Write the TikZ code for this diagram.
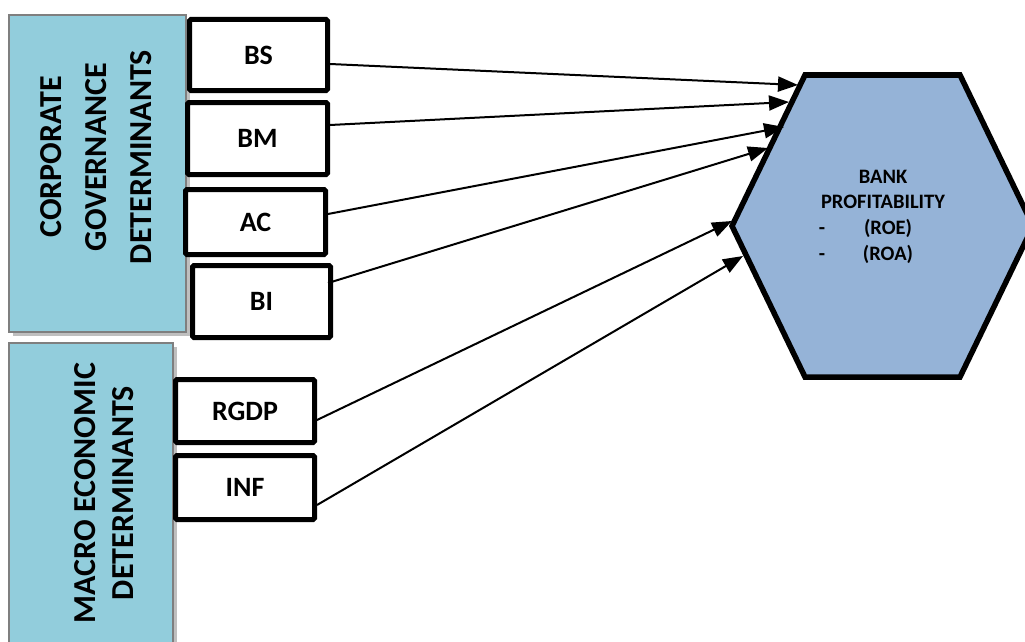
\documentclass[tikz,border=0pt]{standalone}
\usepackage{fontspec}
\setmainfont{Carlito}
\usetikzlibrary{arrows.meta}
\definecolor{aqua}{HTML}{92CDDC}
\definecolor{hexblue}{HTML}{95B3D7}
\definecolor{shadowgray}{HTML}{BFBFBF}
\definecolor{bordergray}{HTML}{7F7F7F}
\begin{document}
\begin{tikzpicture}[x=1pt,y=-1pt,
  var/.style={draw=black, line width=5pt, fill=white, rounded corners=1.5pt, inner sep=0pt,
    font=\bfseries\fontsize{28}{32}\selectfont},
  link/.style={line width=2pt, -{Triangle[length=20pt,width=15pt]}},
  group/.style={fill=aqua, draw=bordergray, line width=2pt},
  grouptext/.style={rotate=90, align=center, font=\bfseries\fontsize{32}{45}\selectfont},
  hextext/.style={anchor=base, font=\bfseries\fontsize{20.5}{24}\selectfont, inner sep=0pt},
  ]
\useasboundingbox (0,0) rectangle (1025,642);
\clip (0,0) rectangle (1025,642);
\fill[white] (0,0) rectangle (1025,642);

% group panels
\fill[shadowgray] (13,19) rectangle (190,336);
\filldraw[group] (9,15) rectangle (186,332);
\fill[shadowgray] (13,347) rectangle (177,660);
\filldraw[group] (9,343) rectangle (173,660);
\node[grouptext] (cg) at (96,157) {CORPORATE\\GOVERNANCE\\DETERMINANTS};
\node[grouptext, font=\bfseries\fontsize{32}{38}\selectfont] (me) at (104,493) {MACRO ECONOMIC\\DETERMINANTS};

% variable boxes
\node[var, minimum width=138pt, minimum height=71pt] (bs) at (258.5,55) {BS};
\node[var, minimum width=140pt, minimum height=72pt] (bm) at (257.5,138.5) {BM};
\node[var, minimum width=140pt, minimum height=65pt] (ac) at (255.5,222) {AC};
\node[var, minimum width=138pt, minimum height=72pt] (bi) at (261.5,301.5) {BI};
\node[var, minimum width=139pt, minimum height=63pt] (rgdp) at (245,411) {RGDP};
\node[var, minimum width=139pt, minimum height=64pt] (inf) at (245,487.5) {INF};

% hexagon
\filldraw[fill=hexblue, draw=black, line width=5.5pt, line join=miter]
  (805,75) -- (960,75) -- (1033,226) -- (960,377) -- (805,377) -- (732,226) -- cycle;
\node[hextext] (h1) at (883,183) {BANK};
\node[hextext] (h2) at (883,208) {PROFITABILITY};
\node[hextext] (h3) at (822,234) {-};
\node[hextext] (h4) at (888,234) {(ROE)};
\node[hextext] (h5) at (822,260) {-};
\node[hextext] (h6) at (888,260) {(ROA)};

% arrow ends
\coordinate (e1) at (798,85);
\coordinate (e2) at (789,102);
\coordinate (e3) at (784,127);
\coordinate (e4) at (768,148);
\coordinate (e5) at (732,221);
\coordinate (e6) at (743,256);

\draw[link] ([yshift=-9pt]bs.east) -- (e1);
\draw[link] ([yshift=13.5pt]bm.east) -- (e2);
\draw[link] ([yshift=8pt]ac.east) -- (e3);
\draw[link] ([yshift=18.5pt,xshift=-5pt]bi.east) -- (e4);
\draw[link] ([yshift=-9pt]rgdp.east) -- (e5);
\draw[link] ([yshift=-17.5pt]inf.east) -- (e6);
\end{tikzpicture}
\end{document}
